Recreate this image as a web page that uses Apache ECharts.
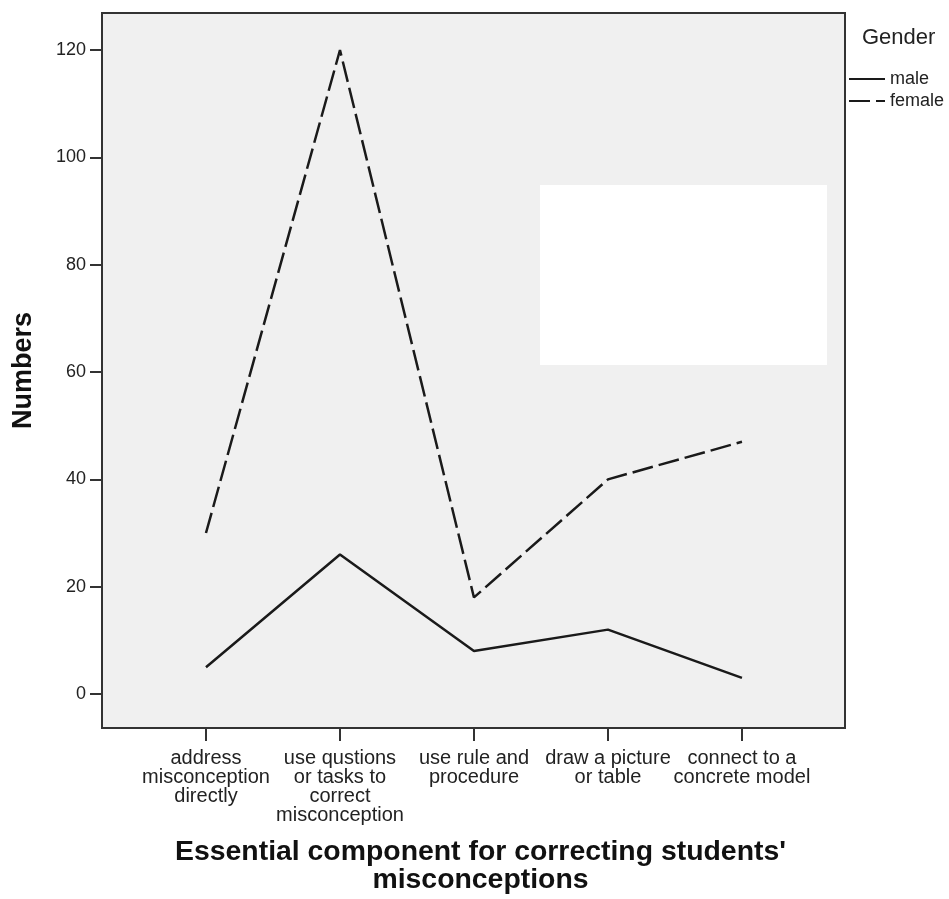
<!DOCTYPE html>
<html>
<head>
<meta charset="utf-8">
<script src="https://cdn.jsdelivr.net/npm/echarts@6/dist/echarts.min.js"></script>
<style>html,body{margin:0;padding:0;background:#fff}#c{width:949px;height:899px}</style>
</head>
<body>
<div id="c"></div>
<script>
var categories = [
  'address\nmisconception\ndirectly',
  'use qustions\nor tasks to\ncorrect\nmisconception',
  'use rule and\nprocedure',
  'draw a picture\nor table',
  'connect to a\nconcrete model'
];
var maleValues = [5, 26, 8, 12, 3];
var femaleValues = [30, 120, 18, 40, 47];
var yTicks = [0, 20, 40, 60, 80, 100, 120];
var seriesNames = ['male', 'female'];

var FONT = '"Liberation Sans", Arial, sans-serif';
var chart = echarts.init(document.getElementById('c'), null, {renderer: 'canvas'});
function pts(arr){ return arr.map(function(v,i){ return [i, v]; }); }
var xIdx = categories.map(function(_, i){ return i; });
var DASH = [21, 6];

chart.setOption({
  backgroundColor: '#ffffff',
  animation: false,
  title: {
    text: 'Gender', left: 862, top: 27, padding: 0,
    textStyle: {fontFamily: FONT, fontSize: 22, fontWeight: 'normal', color: '#222'}
  },
  legend: {
    orient: 'vertical', left: 848, top: 68, padding: 0, itemWidth: 36, itemHeight: 14, itemGap: 0,
    itemStyle: {opacity: 0},
    data: [
      {name: seriesNames[0], lineStyle: {type: 'solid'}},
      {name: seriesNames[1], lineStyle: {type: DASH}}
    ],
    textStyle: {fontFamily: FONT, fontSize: 18, lineHeight: 22, color: '#222'}
  },
  grid: {
    left: 102, top: 13, width: 743, height: 718,
    show: true, backgroundColor: '#f0f0f0', borderColor: '#333', borderWidth: 2
  },
  xAxis: {
    type: 'value', min: -0.776, max: 4.769,
    name: "Essential component for correcting students'\nmisconceptions",
    nameLocation: 'middle', nameGap: 110,
    nameTextStyle: {fontFamily: FONT, fontSize: 28.4, fontWeight: 'bold', color: '#111', lineHeight: 28, padding: [0, 0, 0, 14]},
    axisLine: {show: false, onZero: false},
    splitLine: {show: false},
    axisTick: {show: true, customValues: xIdx, length: 13, lineStyle: {color: '#333', width: 2}},
    axisLabel: {
      customValues: xIdx, margin: 21,
      formatter: function(v){ return categories[Math.round(v)]; },
      fontFamily: FONT, fontSize: 20, lineHeight: 19, color: '#222', verticalAlign: 'top'
    }
  },
  yAxis: {
    type: 'value', min: -6.33, max: 126.9,
    name: 'Numbers', nameLocation: 'middle', nameGap: 65,
    nameTextStyle: {fontFamily: FONT, fontSize: 27, fontWeight: 'bold', color: '#111'},
    axisLine: {show: false, onZero: false},
    splitLine: {show: false},
    axisTick: {show: true, customValues: yTicks, length: 12, lineStyle: {color: '#333', width: 2}},
    axisLabel: {customValues: yTicks, margin: 16, fontFamily: FONT, fontSize: 18, color: '#222'}
  },
  graphic: [{
    type: 'rect', shape: {x: 540, y: 185, width: 287, height: 180},
    style: {fill: '#ffffff'}, z: 100
  }],
  series: [
    {name: seriesNames[0], type: 'line', data: pts(maleValues), showSymbol: false, symbol: 'none',
     lineStyle: {color: '#1a1a1a', width: 2.5, type: 'solid'}, itemStyle: {color: '#1a1a1a'}},
    {name: seriesNames[1], type: 'line', data: pts(femaleValues), showSymbol: false, symbol: 'none',
     lineStyle: {color: '#1a1a1a', width: 2.5, type: DASH}, itemStyle: {color: '#1a1a1a'}}
  ]
});
</script>
</body>
</html>
